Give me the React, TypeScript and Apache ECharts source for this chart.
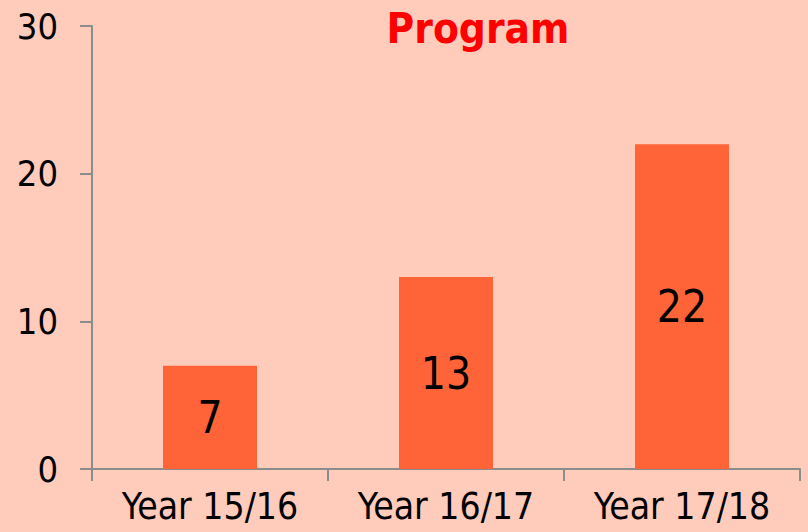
import React, { useEffect, useRef } from "react";
import * as echarts from "echarts";

const categories = ["Year 15/16", "Year 16/17", "Year 17/18"];
const values = [7, 13, 22];
const yTicks = [0, 10, 20, 30];

export default function App() {
  const ref = useRef<HTMLDivElement>(null);
  useEffect(() => {
    const chart = echarts.init(ref.current!, null, { renderer: "svg" });
    const font = "'DejaVu Sans Condensed', 'DejaVu Sans', sans-serif";
    chart.setOption({
      animation: false,
      backgroundColor: "#FFCBBB",
      title: {
        text: "Program",
        left: 473,
        textAlign: "center",
        top: 2,
        textStyle: { color: "#FF0000", fontSize: 42, fontWeight: "bold", fontFamily: font },
      },
      grid: { left: 92, right: 8, top: 26, bottom: 63, containLabel: false },
      xAxis: {
        type: "category",
        data: categories,
        axisLine: { lineStyle: { color: "#8C8C8C", width: 2 } },
        axisTick: { show: true, length: 12, lineStyle: { color: "#8C8C8C", width: 2 } },
        axisLabel: { color: "#000", fontSize: 37, fontFamily: font, margin: 19 },
      },
      yAxis: {
        type: "value",
        min: yTicks[0],
        max: yTicks[yTicks.length - 1],
        interval: 10,
        splitLine: { show: false },
        axisLine: { show: true, lineStyle: { color: "#8C8C8C", width: 2 } },
        axisTick: { show: true, length: 12, lineStyle: { color: "#8C8C8C", width: 2 } },
        axisLabel: { color: "#000", fontSize: 36, fontFamily: font, margin: 34 },
      },
      series: [
        {
          type: "bar",
          data: values,
          barWidth: 94,
          itemStyle: { color: "#FF6438" },
          label: {
            show: true,
            position: "inside",
            color: "#000",
            fontSize: 44,
            fontFamily: font,
          },
        },
      ],
    });
    return () => chart.dispose();
  }, []);
  return <div ref={ref} style={{ width: 808, height: 532, position: "absolute", left: 0, top: 0 }} />;
}
